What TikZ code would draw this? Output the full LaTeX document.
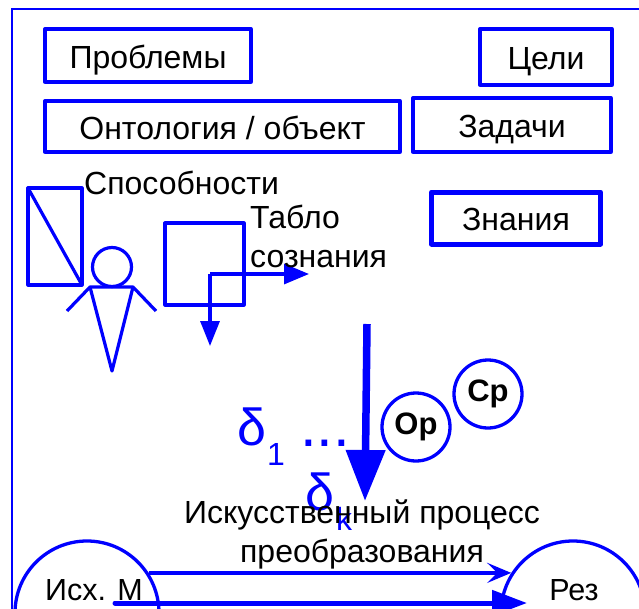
\documentclass[tikz,border=0pt]{standalone}
\usepackage{fontspec}
\setmainfont{Liberation Sans}
\usetikzlibrary{arrows.meta}
\definecolor{pureblue}{RGB}{0,0,255}
\tikzset{
  lbl/.style={font=\fontsize{32}{39}\selectfont, align=center, inner sep=0pt, text=black},
  greek/.style={font=\fontsize{50}{56}\selectfont, inner sep=0pt, text=pureblue, anchor=base west},
  box/.style={draw=pureblue, line width=3.3pt, line join=round, rectangle, inner sep=0pt, lbl, text height=25pt, text depth=0pt},
  opcirc/.style={draw=pureblue, line width=3.3pt, circle, minimum size=68pt, inner sep=0pt, font=\fontsize{31}{34}\selectfont\bfseries, text=black, text height=22pt, text depth=8pt},
  matcirc/.style={draw=pureblue, line width=3.3pt, circle, minimum size=144pt, inner sep=0pt},
  figline/.style={draw=pureblue, line width=3.2pt, line join=round}
}
\begin{document}
\begin{tikzpicture}[x=1pt, y=-1pt]
  \clip (0,0) rectangle (639,608);
  \draw[pureblue, line width=1.5pt] (12,610) -- (12,9) -- (641,9);

  \node[box, minimum width=206pt, minimum height=53pt] (problems) at (148,55.5) {Проблемы};
  \node[box, minimum width=132pt, minimum height=56pt] (goals) at (546,57) {Цели};
  \node[box, minimum width=355pt, minimum height=51pt] (onto) at (222.5,126.5) {Онтология / объект};
  \node[box, minimum width=198pt, minimum height=54pt] (tasks) at (512,125) {Задачи};
  \node[box, line width=5pt, minimum width=169pt, minimum height=52pt] (know) at (516,218) {Знания};

  % abilities and person
  \draw[figline] (28,188) rectangle (82,285);
  \draw[figline] (28,188) -- (82,285);
  \node[figline, circle, minimum size=39pt, inner sep=0pt] (head) at (112,267) {};
  \draw[figline] (67,311) -- (90,287) -- (133,287) -- (156,311);
  \draw[figline] (90,287) -- (112,371) -- (133,287);
  \node[lbl, anchor=base west] (abil) at (84,194) {Способности};

  % tableau of consciousness
  \draw[figline] (165,223) rectangle (244,305);
  \coordinate (corner) at (210,274);
  \coordinate (tabright) at (309,274);
  \coordinate (tabdown) at (210,346);
  \draw[figline, -{Triangle[length=25pt, width=20pt]}] (corner) -- (tabright);
  \draw[figline, -{Triangle[length=25pt, width=19pt]}] (corner) -- (tabdown);
  \node[lbl, anchor=base west] (tablo1) at (250,228) {Табло};
  \node[lbl, anchor=base west] (tablo2) at (250,267) {сознания};

  % main process
  \coordinate (bigtop) at (367,324);
  \coordinate (bigtip) at (365,501);
  \draw[pureblue, line width=7.5pt, -{Triangle[length=51pt, width=38pt]}] (bigtop) -- (bigtip);
  \node[opcirc] (op) at (416,427) {Ор};
  \node[opcirc] (cp) at (488,394) {Ср};

  \node[greek, font=\fontsize{52}{56}\selectfont] (d1) at (237,445) {δ};
  \node[greek, font=\fontsize{32}{36}\selectfont] (s1) at (267,465) {1};
  \node[greek, font=\fontsize{60}{66}\selectfont] (dots) at (300,446) {...};
  \node[greek, font=\fontsize{52}{56}\selectfont] (dk) at (305,510) {δ};
  \node[greek, font=\fontsize{32}{36}\selectfont] (sk) at (336,530) {k};

  \node[matcirc] (src) at (87,613) {};
  \node[matcirc] (res) at (573,613) {};
  \coordinate (low1) at (115,603);
  \coordinate (low2) at (527,603);
  \draw[pureblue, line width=3.5pt, -{Stealth[length=24pt, width=20pt, inset=10pt]}] (src.33) -- (res.147);
  \draw[pureblue, line width=5pt, line cap=round, -{Triangle[length=35pt, width=25pt]}] (low1) -- (low2);

  \node[lbl, font=\fontsize{30.5}{39}\selectfont, anchor=base] (srclbl) at (94,600) {Исх. М};
  \node[lbl, font=\fontsize{30.5}{39}\selectfont, anchor=base] (reslbl) at (574,600) {Рез};
  \node[lbl, anchor=base] (proc) at (362,562.5) {Искусственный процесс\\преобразования};
\end{tikzpicture}
\end{document}
